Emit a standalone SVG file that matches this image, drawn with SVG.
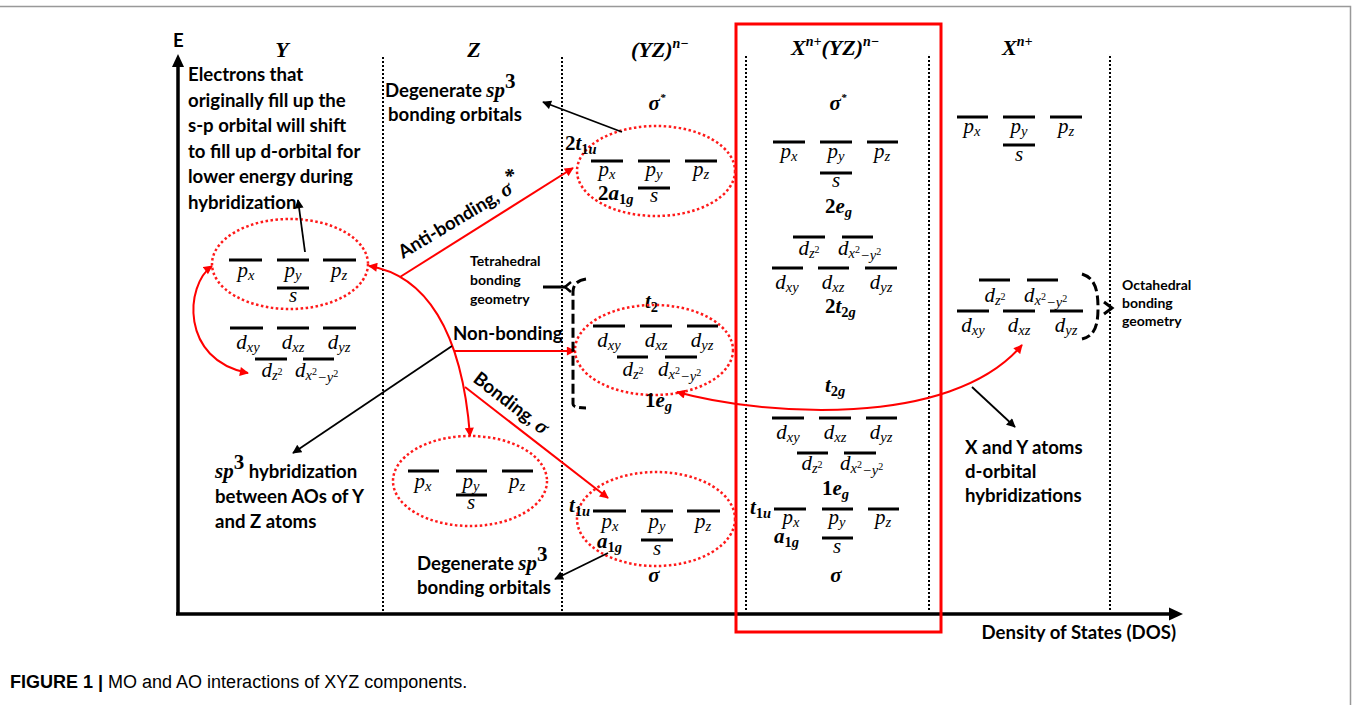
<svg xmlns="http://www.w3.org/2000/svg" width="1356" height="705" viewBox="0 0 1356 705">
<defs>
<style>
.t{font-family:Lato,"Open Sans","Liberation Sans",sans-serif;font-weight:bold;font-size:18.6px;fill:#000}
.sm{font-size:14px}
.m{font-family:"Liberation Serif","DejaVu Serif",serif;font-style:italic;font-size:21px;fill:#000}
.mb{font-family:"Liberation Serif","DejaVu Serif",serif;font-style:italic;font-weight:bold;font-size:21px;fill:#000}
.hd{font-size:22px}
.up{font-style:normal}
.bar{stroke:#000;stroke-width:3.2;fill:none}
.ell{fill:none;stroke:#ff1a1a;stroke-width:2.5;stroke-dasharray:2.5 2.5}
.dot{stroke:#000;stroke-width:2;stroke-dasharray:2 2;fill:none}
.rl{fill:none;stroke:#f00;stroke-width:2}
.bl{fill:none;stroke:#000;stroke-width:1.8}
.dash{fill:none;stroke:#000;stroke-width:3;stroke-dasharray:10 4}
.cap{font-family:"Liberation Sans",Arial,sans-serif;font-size:18px;fill:#000}
</style>
<marker id="ar" viewBox="0 0 10 10" refX="9" refY="5" markerWidth="10" markerHeight="9" markerUnits="userSpaceOnUse" orient="auto-start-reverse"><path d="M0,0 L10,5 L0,10 z" fill="#f00"/></marker>
<marker id="ab" viewBox="0 0 10 10" refX="9" refY="5" markerWidth="10" markerHeight="9" markerUnits="userSpaceOnUse" orient="auto-start-reverse"><path d="M0,0 L10,5 L0,10 z" fill="#000"/></marker>
</defs>
<rect width="1356" height="705" fill="#fff"/>
<path d="M0,6.5 H1350.5 V705" stroke="#999" stroke-width="1.5" fill="none"/>

<g id="axes">
<path d="M178,615 V66" stroke="#000" stroke-width="3.5"/>
<polygon points="178,54 172,67 184,67" fill="#000"/>
<path d="M176,614 H1170" stroke="#000" stroke-width="3.5"/>
<polygon points="1183,614 1169,607.5 1169,620.5" fill="#000"/>
<text class="t" x="173" y="47" font-size="15">E</text>
<text class="t" x="1176" y="639" text-anchor="end" font-size="17">Density of States (DOS)</text>
</g>

<g id="dividers">
<path class="dot" d="M383,57 V612 M562,57 V612 M746,56 V612 M929,56 V612 M1110,56 V612"/>
</g>

<g id="headers">
<text class="mb hd" x="282" y="57" text-anchor="middle">Y</text>
<text class="mb hd" x="474" y="57" text-anchor="middle">Z</text>
<text class="mb hd" x="631" y="57">(YZ)<tspan dy="-9" font-size="14">n−</tspan></text>
<text class="mb hd" x="791" y="55">X<tspan dy="-9" font-size="14">n+</tspan><tspan dy="9">(YZ)</tspan><tspan dy="-9" font-size="14">n−</tspan></text>
<text class="mb hd" x="1002" y="55">X<tspan dy="-9" font-size="14">n+</tspan></text>
</g>

<rect id="highlight" x="736" y="24" width="205" height="608" fill="none" stroke="#f00" stroke-width="3"/>

<g id="note-electrons">
<text class="t"><tspan x="188" y="81">Electrons that</tspan><tspan x="188" y="106.5">originally fill up the</tspan><tspan x="188" y="132">s-p orbital will shift</tspan><tspan x="188" y="157.5">to fill up d-orbital for</tspan><tspan x="188" y="183">lower energy during</tspan><tspan x="188" y="208.5">hybridization</tspan></text>
</g>

<g id="note-sp3">
<text class="t" x="215" y="478"><tspan class="m" font-size="22">sp</tspan><tspan class="m up" font-size="15" dy="-9">3</tspan><tspan dy="9"> hybridization</tspan></text>
<text class="t" x="215" y="503">between AOs of Y</text>
<text class="t" x="215" y="528">and Z atoms</text>
</g>

<g id="note-degenerate-top">
<text class="t" x="385" y="97">Degenerate <tspan class="m" font-size="22">sp</tspan><tspan class="m up" font-size="15" dy="-9">3</tspan></text>
<text class="t" x="388" y="121">bonding orbitals</text>
</g>

<g id="note-degenerate-bottom">
<text class="t" x="417" y="570">Degenerate <tspan class="m" font-size="22">sp</tspan><tspan class="m up" font-size="15" dy="-9">3</tspan></text>
<text class="t" x="417" y="594">bonding orbitals</text>
</g>

<g id="note-tetrahedral">
<text class="t sm"><tspan x="470" y="266">Tetrahedral</tspan><tspan x="470" y="285">bonding</tspan><tspan x="470" y="304">geometry</tspan></text>
</g>

<g id="note-octahedral">
<text class="t sm"><tspan x="1122" y="290">Octahedral</tspan><tspan x="1122" y="308">bonding</tspan><tspan x="1122" y="326">geometry</tspan></text>
</g>

<g id="note-xy">
<text class="t"><tspan x="965" y="454">X and Y atoms</tspan><tspan x="965" y="478">d-orbital</tspan><tspan x="965" y="502">hybridizations</tspan></text>
</g>

<g id="label-antibonding">
<text class="t" x="403" y="259" transform="rotate(-31 403 259)">Anti-bonding, <tspan class="mb">σ</tspan><tspan class="mb" font-size="11" dy="-9">*</tspan></text>
</g>
<g id="label-nonbonding">
<text class="t" x="453" y="340">Non-bonding</text>
</g>
<g id="label-bonding">
<text class="t" x="472" y="381" transform="rotate(37.7 472 381)">Bonding, <tspan class="mb">σ</tspan></text>
</g>

<g id="node-Y">
<ellipse class="ell" cx="290" cy="264" rx="78" ry="45"/>
<path class="bar" d="M229,260h33M277,260h32M323,260h33M277,288h32M230,328h33M277,328h32M323,328h33M255,359h32M303,359h31"/>
<text class="m" x="246" y="277" text-anchor="middle">p<tspan dy="3" font-size="14.5">x</tspan></text>
<text class="m" x="293" y="277" text-anchor="middle">p<tspan dy="3" font-size="14.5">y</tspan></text>
<text class="m" x="339" y="277" text-anchor="middle">p<tspan dy="3" font-size="14.5">z</tspan></text>
<text class="m" x="293" y="302" text-anchor="middle">s</text>
<text class="m" x="248" y="349" text-anchor="middle">d<tspan dy="3" font-size="14.5">xy</tspan></text>
<text class="m" x="293" y="349" text-anchor="middle">d<tspan dy="3" font-size="14.5">xz</tspan></text>
<text class="m" x="339" y="349" text-anchor="middle">d<tspan dy="3" font-size="14.5">yz</tspan></text>
<text class="m" x="272" y="377" text-anchor="middle">d<tspan dy="3" font-size="14.5">z</tspan><tspan dy="-5" font-size="10" class="up">2</tspan></text>
<text class="m" x="295" y="377">d<tspan dy="3" font-size="14.5">x</tspan><tspan dy="-5" font-size="10" class="up">2</tspan><tspan dy="7" font-size="14.5">−y</tspan><tspan dy="-5" font-size="10" class="up">2</tspan></text>
</g>

<g id="node-Z">
<ellipse class="ell" cx="470" cy="481" rx="77" ry="45"/>
<path class="bar" d="M408,471h31M456,471h31M502,471h31M456,495h31"/>
<text class="m" x="423" y="488" text-anchor="middle">p<tspan dy="3" font-size="14.5">x</tspan></text>
<text class="m" x="471" y="488" text-anchor="middle">p<tspan dy="3" font-size="14.5">y</tspan></text>
<text class="m" x="517" y="488" text-anchor="middle">p<tspan dy="3" font-size="14.5">z</tspan></text>
<text class="m" x="471" y="509" text-anchor="middle">s</text>
</g>

<g id="node-YZ-antibonding">
<text class="mb" x="657" y="110" text-anchor="middle">σ<tspan font-size="11" dy="-9">*</tspan></text>
<ellipse class="ell" cx="656" cy="171" rx="79" ry="45"/>
<path class="bar" d="M591,161h32M638,161h32M685,161h32M638,188h32"/>
<text class="mb" x="565" y="150"><tspan class="up">2</tspan>t<tspan dy="4" font-size="14.5"><tspan class="up">1</tspan>u</tspan></text>
<text class="mb" x="598" y="200"><tspan class="up">2</tspan>a<tspan dy="4" font-size="14.5"><tspan class="up">1</tspan>g</tspan></text>
<text class="m" x="607" y="176" text-anchor="middle">p<tspan dy="3" font-size="14.5">x</tspan></text>
<text class="m" x="654" y="176" text-anchor="middle">p<tspan dy="3" font-size="14.5">y</tspan></text>
<text class="m" x="701" y="176" text-anchor="middle">p<tspan dy="3" font-size="14.5">z</tspan></text>
<text class="m" x="654" y="202" text-anchor="middle">s</text>
</g>

<g id="node-YZ-nonbonding">
<text class="mb" x="645" y="308">t<tspan dy="4" font-size="14.5" class="up">2</tspan></text>
<ellipse class="ell" cx="654" cy="350" rx="79" ry="45"/>
<path class="bar" d="M593,326h32M640,326h32M687,326h31M617,357h31M665,357h32"/>
<text class="m" x="609" y="347" text-anchor="middle">d<tspan dy="3" font-size="14.5">xy</tspan></text>
<text class="m" x="656" y="347" text-anchor="middle">d<tspan dy="3" font-size="14.5">xz</tspan></text>
<text class="m" x="702" y="347" text-anchor="middle">d<tspan dy="3" font-size="14.5">yz</tspan></text>
<text class="m" x="633" y="376" text-anchor="middle">d<tspan dy="3" font-size="14.5">z</tspan><tspan dy="-5" font-size="10" class="up">2</tspan></text>
<text class="m" x="658" y="376">d<tspan dy="3" font-size="14.5">x</tspan><tspan dy="-5" font-size="10" class="up">2</tspan><tspan dy="7" font-size="14.5">−y</tspan><tspan dy="-5" font-size="10" class="up">2</tspan></text>
<text class="mb" x="645" y="407"><tspan class="up">1</tspan>e<tspan dy="4" font-size="14.5">g</tspan></text>
</g>

<g id="node-YZ-bonding">
<ellipse class="ell" cx="656" cy="519" rx="79" ry="47"/>
<path class="bar" d="M593,511h33M641,511h32M687,511h33M641,540h32"/>
<text class="mb" x="569" y="512">t<tspan dy="4" font-size="14.5"><tspan class="up">1</tspan>u</tspan></text>
<text class="mb" x="597" y="548">a<tspan dy="4" font-size="14.5"><tspan class="up">1</tspan>g</tspan></text>
<text class="m" x="610" y="528" text-anchor="middle">p<tspan dy="3" font-size="14.5">x</tspan></text>
<text class="m" x="657" y="528" text-anchor="middle">p<tspan dy="3" font-size="14.5">y</tspan></text>
<text class="m" x="703" y="528" text-anchor="middle">p<tspan dy="3" font-size="14.5">z</tspan></text>
<text class="m" x="657" y="555" text-anchor="middle">s</text>
<text class="mb" x="654" y="582" text-anchor="middle">σ</text>
</g>

<g id="node-XYZ">
<text class="mb" x="838" y="110" text-anchor="middle">σ<tspan font-size="11" dy="-9">*</tspan></text>
<path class="bar" d="M773,142h32M820,142h32M867,142h31M820,173h32M793,237h32M842,237h31M772,268h31M818,268h31M865,268h32M772,418h32M819,418h32M866,418h31M797,453h31M844,453h32M774,509h32M822,509h31M868,509h31M822,538h31"/>
<text class="m" x="789" y="158" text-anchor="middle">p<tspan dy="3" font-size="14.5">x</tspan></text>
<text class="m" x="836" y="158" text-anchor="middle">p<tspan dy="3" font-size="14.5">y</tspan></text>
<text class="m" x="882" y="158" text-anchor="middle">p<tspan dy="3" font-size="14.5">z</tspan></text>
<text class="m" x="836" y="187" text-anchor="middle">s</text>
<text class="mb" x="825" y="213"><tspan class="up">2</tspan>e<tspan dy="4" font-size="14.5">g</tspan></text>
<text class="m" x="809" y="255" text-anchor="middle">d<tspan dy="3" font-size="14.5">z</tspan><tspan dy="-5" font-size="10" class="up">2</tspan></text>
<text class="m" x="838" y="255">d<tspan dy="3" font-size="14.5">x</tspan><tspan dy="-5" font-size="10" class="up">2</tspan><tspan dy="7" font-size="14.5">−y</tspan><tspan dy="-5" font-size="10" class="up">2</tspan></text>
<text class="m" x="787" y="289" text-anchor="middle">d<tspan dy="3" font-size="14.5">xy</tspan></text>
<text class="m" x="833" y="289" text-anchor="middle">d<tspan dy="3" font-size="14.5">xz</tspan></text>
<text class="m" x="881" y="289" text-anchor="middle">d<tspan dy="3" font-size="14.5">yz</tspan></text>
<text class="mb" x="825" y="313"><tspan class="up">2</tspan>t<tspan dy="4" font-size="14.5"><tspan class="up">2</tspan>g</tspan></text>
<text class="mb" x="825" y="392">t<tspan dy="4" font-size="14.5"><tspan class="up">2</tspan>g</tspan></text>
<text class="m" x="788" y="439" text-anchor="middle">d<tspan dy="3" font-size="14.5">xy</tspan></text>
<text class="m" x="835" y="439" text-anchor="middle">d<tspan dy="3" font-size="14.5">xz</tspan></text>
<text class="m" x="881" y="439" text-anchor="middle">d<tspan dy="3" font-size="14.5">yz</tspan></text>
<text class="m" x="812" y="470" text-anchor="middle">d<tspan dy="3" font-size="14.5">z</tspan><tspan dy="-5" font-size="10" class="up">2</tspan></text>
<text class="m" x="840" y="470">d<tspan dy="3" font-size="14.5">x</tspan><tspan dy="-5" font-size="10" class="up">2</tspan><tspan dy="7" font-size="14.5">−y</tspan><tspan dy="-5" font-size="10" class="up">2</tspan></text>
<text class="mb" x="822" y="495"><tspan class="up">1</tspan>e<tspan dy="4" font-size="14.5">g</tspan></text>
<text class="mb" x="750" y="514">t<tspan dy="4" font-size="14.5"><tspan class="up">1</tspan>u</tspan></text>
<text class="m" x="791" y="524" text-anchor="middle">p<tspan dy="3" font-size="14.5">x</tspan></text>
<text class="m" x="837" y="524" text-anchor="middle">p<tspan dy="3" font-size="14.5">y</tspan></text>
<text class="m" x="883" y="524" text-anchor="middle">p<tspan dy="3" font-size="14.5">z</tspan></text>
<text class="mb" x="774" y="543">a<tspan dy="4" font-size="14.5"><tspan class="up">1</tspan>g</tspan></text>
<text class="m" x="837" y="553" text-anchor="middle">s</text>
<text class="mb" x="836" y="582" text-anchor="middle">σ</text>
</g>

<g id="node-X">
<path class="bar" d="M957,117h31M1003,117h32M1050,117h32M1003,145h32M979,280h31M1027,280h31M957,311h32M1003,311h32M1050,311h33"/>
<text class="m" x="972" y="133" text-anchor="middle">p<tspan dy="3" font-size="14.5">x</tspan></text>
<text class="m" x="1019" y="133" text-anchor="middle">p<tspan dy="3" font-size="14.5">y</tspan></text>
<text class="m" x="1066" y="133" text-anchor="middle">p<tspan dy="3" font-size="14.5">z</tspan></text>
<text class="m" x="1019" y="161" text-anchor="middle">s</text>
<text class="m" x="995" y="302" text-anchor="middle">d<tspan dy="3" font-size="14.5">z</tspan><tspan dy="-5" font-size="10" class="up">2</tspan></text>
<text class="m" x="1024" y="302">d<tspan dy="3" font-size="14.5">x</tspan><tspan dy="-5" font-size="10" class="up">2</tspan><tspan dy="7" font-size="14.5">−y</tspan><tspan dy="-5" font-size="10" class="up">2</tspan></text>
<text class="m" x="973" y="332" text-anchor="middle">d<tspan dy="3" font-size="14.5">xy</tspan></text>
<text class="m" x="1019" y="332" text-anchor="middle">d<tspan dy="3" font-size="14.5">xz</tspan></text>
<text class="m" x="1066" y="332" text-anchor="middle">d<tspan dy="3" font-size="14.5">yz</tspan></text>
</g>

<g id="connectors">
<path class="rl" d="M369,266 C425,275 462,330 470,436" marker-start="url(#ar)" marker-end="url(#ar)"/>
<path class="rl" d="M400,277 L573,168" marker-end="url(#ar)"/>
<path class="rl" d="M454,351 L575,351" marker-end="url(#ar)"/>
<path class="rl" d="M465,387 L608,498" marker-end="url(#ar)"/>
<path class="rl" d="M212,266 C185,285 180,360 248,373" marker-start="url(#ar)" marker-end="url(#ar)"/>
<path class="rl" d="M677,392 C760,415 950,430 1022,345" marker-start="url(#ar)" marker-end="url(#ar)"/>
<path class="bl" d="M305,252 L298,200" marker-end="url(#ab)"/>
<path class="bl" d="M452,346 L293,453" marker-end="url(#ab)"/>
<path class="bl" d="M622,132 L543,102" marker-end="url(#ab)"/>
<path class="bl" d="M608,553 L555,579" marker-end="url(#ab)"/>
<path class="bl" d="M972,387 L1015,427" marker-end="url(#ab)"/>
<path d="M543,287 H566" stroke="#000" stroke-width="3"/>
<path d="M571,282 L565,287 L571,292" stroke="#000" stroke-width="2.5" fill="none"/>
<path class="dash" d="M586,279 Q573,281 573,292 L573,404 Q573,408 586,408"/>
<path class="dash" d="M1082,274 C1095,278 1098,290 1098,308 C1098,325 1095,336 1082,339"/>
<path d="M1104,302 L1112,308 L1104,314" stroke="#000" stroke-width="3" fill="none"/>
</g>

<g id="caption">
<text class="cap" x="10" y="688"><tspan font-weight="bold">FIGURE 1 |</tspan> MO and AO interactions of XYZ components.</text>
</g>
</svg>
